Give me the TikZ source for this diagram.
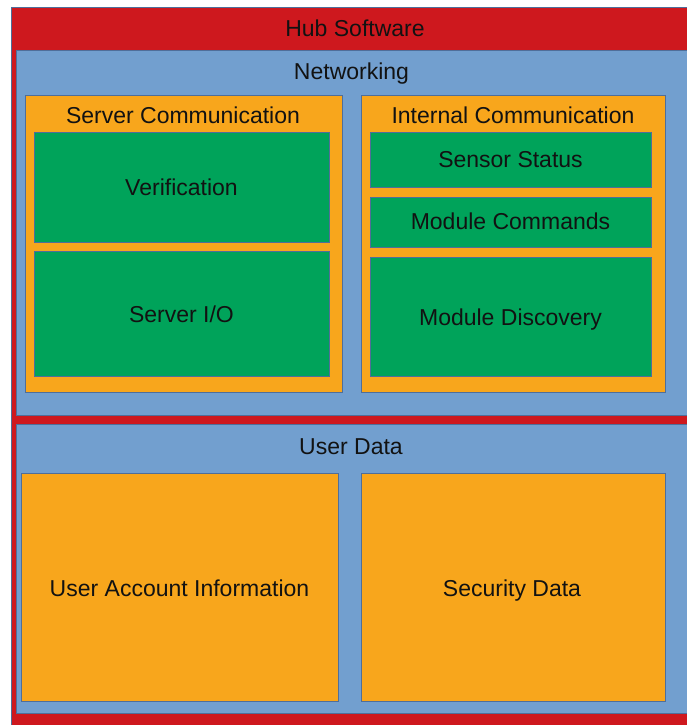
\documentclass[tikz,border=0pt]{standalone}
\usepackage{fontspec}
\setmainfont{Liberation Sans}
\definecolor{hubred}{HTML}{CE181E}
\definecolor{netblue}{HTML}{729FCF}
\definecolor{boxorange}{HTML}{F8A61C}
\definecolor{boxgreen}{HTML}{00A35A}
\definecolor{edge}{HTML}{4F6E9A}
\definecolor{txt}{HTML}{121212}
\begin{document}
\begin{tikzpicture}[x=1pt,y=-1pt,
  panel/.style={draw=edge,line width=0.9pt},
  lbl/.style={font=\fontsize{23}{26}\selectfont,text=txt,inner sep=0pt,text height=16.5pt,text depth=0pt},
  titlelbl/.style={lbl,anchor=base}]
\useasboundingbox (0,0) rectangle (687,725);
\clip (0,0) rectangle (687,725);
\fill[white] (0,0) rectangle (687,725);
% outer
\draw[panel,fill=hubred] (11,7) rectangle (700,740);
\node[titlelbl] (hub) at (355,37) {Hub Software};
% networking
\draw[panel,fill=netblue] (16,50) rectangle (700,415);
\node[titlelbl] (net) at (351.5,79) {Networking};
% server communication
\draw[panel,fill=boxorange] (25,95) rectangle (342,392);
\node[titlelbl] (sc) at (183,123) {Server Communication};
\draw[panel,fill=boxgreen] (34,132) rectangle (329,242);
\node[lbl] (ver) at (181.5,187.5) {Verification};
\draw[panel,fill=boxgreen] (34,251) rectangle (329,376);
\node[lbl] (sio) at (181.5,314) {Server I/O};
% internal communication
\draw[panel,fill=boxorange] (361,95) rectangle (665,392);
\node[titlelbl] (ic) at (513,123) {Internal Communication};
\draw[panel,fill=boxgreen] (370,132) rectangle (651,187);
\node[lbl] (ss) at (510.5,159.5) {Sensor Status};
\draw[panel,fill=boxgreen] (370,197) rectangle (651,247);
\node[lbl] (mc) at (510.5,221.5) {Module Commands};
\draw[panel,fill=boxgreen] (370,257) rectangle (651,376);
\node[lbl] (md) at (510.5,317.5) {Module Discovery};
% user data
\draw[panel,fill=netblue] (16,424) rectangle (700,713);
\node[titlelbl] (ud) at (351,454) {User Data};
\draw[panel,fill=boxorange] (21,473) rectangle (338,701);
\node[lbl] (uai) at (179.5,588) {User Account Information};
\draw[panel,fill=boxorange] (361,473) rectangle (665,701);
\node[lbl] (sd) at (512,588) {Security Data};
\end{tikzpicture}
\end{document}
